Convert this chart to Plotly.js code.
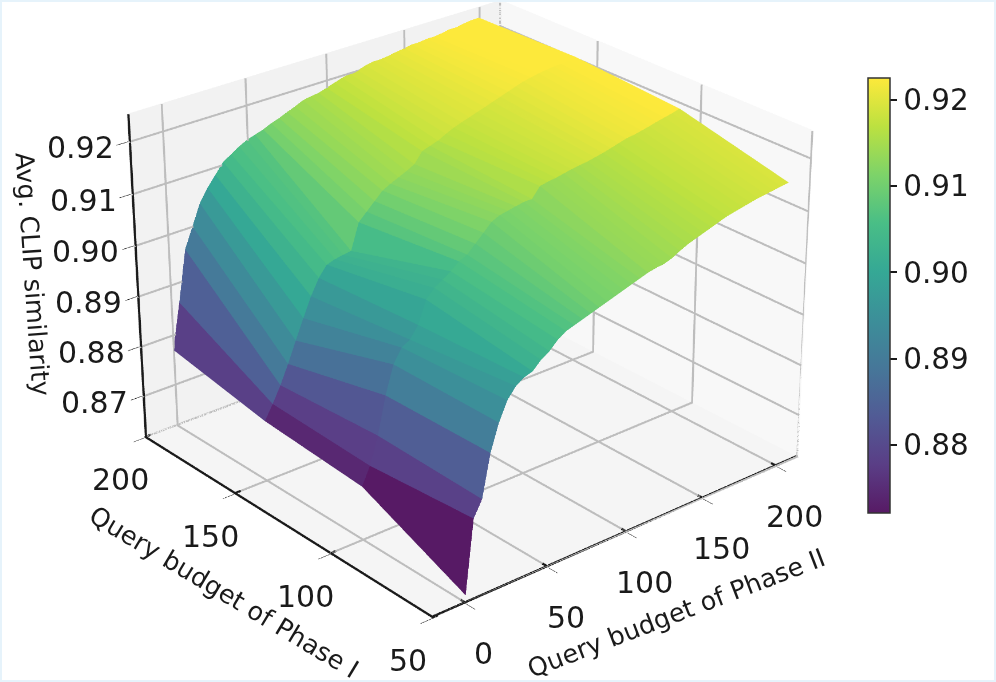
<!DOCTYPE html>
<html>
<head>
<meta charset="utf-8">
<script src="https://cdn.plot.ly/plotly-3.0.1.min.js"></script>
<style>
  html, body { margin: 0; padding: 0; background: #fff; overflow: hidden; }
  #frame { position: relative; width: 996px; height: 682px; overflow: hidden; }
  #frame::after { content: ""; position: absolute; inset: 0; border: 2px solid #e6f3fb; pointer-events: none; }
  /* four times the window: Plotly's field of view is fixed, so this is what flattens the perspective */
  #plot { position: absolute; left: -1494px; top: -1023px; width: 3984px; height: 2728px; }
</style>
</head>
<body>
<div id="frame"><div id="plot"></div></div>
<script>
// Query budgets on both axes
const phaseOne = [50, 100, 150, 200];
const phaseTwo = [0, 5, 10, 15, 20, 25, 30, 35, 40, 45, 50, 55, 60, 65, 70, 75, 80, 85, 90, 95, 100,
  105, 110, 115, 120, 125, 130, 135, 140, 145, 150, 155, 160, 165, 170, 175, 180, 185, 190, 195, 200];

// Avg. CLIP similarity, one list per Phase I budget
const simPhaseOne50 = [0.863, 0.877, 0.880, 0.888, 0.893, 0.8965, 0.8985, 0.8995, 0.900, 0.9015, 0.9025, 0.904, 0.905, 0.9055, 0.906, 0.9065, 0.907, 0.9075, 0.908, 0.9085,
  0.909, 0.9095, 0.910, 0.9103, 0.9105, 0.911, 0.9118, 0.9125, 0.913, 0.9135, 0.914, 0.9145, 0.915, 0.9153, 0.9156, 0.9159, 0.9162, 0.9164, 0.9166, 0.9168, 0.917];
const simPhaseOne100 = [0.872, 0.8754, 0.8806, 0.8877, 0.893, 0.8956, 0.8965, 0.8987, 0.9029, 0.9045, 0.9055, 0.9065, 0.9078, 0.9085, 0.91, 0.9115, 0.913, 0.9137, 0.914, 0.9143,
  0.9146, 0.9146, 0.9165, 0.9168, 0.917, 0.9173, 0.9176, 0.9178, 0.918, 0.9183, 0.9186, 0.919, 0.9194, 0.9198, 0.92, 0.9203, 0.9206, 0.921, 0.9213, 0.9216, 0.922];
const simPhaseOne150 = [0.8735, 0.8763, 0.8794, 0.883, 0.887, 0.8908, 0.8945, 0.8975, 0.8995, 0.9, 0.9003, 0.9005, 0.9055, 0.907, 0.9085, 0.910, 0.9108, 0.9115, 0.9122, 0.913,
  0.915, 0.9155, 0.916, 0.9168, 0.9175, 0.918, 0.9185, 0.919, 0.9195, 0.92, 0.9205, 0.921, 0.9215, 0.922, 0.9223, 0.9226, 0.9228, 0.923, 0.923, 0.9232, 0.9234];
const simPhaseOne200 = [0.877, 0.886, 0.896, 0.900, 0.904, 0.9065, 0.9085, 0.9105, 0.9115, 0.9125, 0.9133, 0.9138, 0.9143, 0.915, 0.9155, 0.9162, 0.9168, 0.9175, 0.9178, 0.918,
  0.9185, 0.919, 0.9195, 0.9198, 0.92, 0.9205, 0.9208, 0.9208, 0.921, 0.9213, 0.9215, 0.9218, 0.9218, 0.922, 0.922, 0.9222, 0.9225, 0.9225, 0.9228, 0.923, 0.923];

const simRows = [simPhaseOne50, simPhaseOne100, simPhaseOne150, simPhaseOne200];

const phaseOneTicks = [50, 100, 150, 200];
const phaseTwoTicks = [0, 50, 100, 150, 200];
const simTicks = [0.87, 0.88, 0.89, 0.90, 0.91, 0.92];
const barTicks = [0.88, 0.89, 0.90, 0.91, 0.92];

// viridis on white at alpha 0.9
const viridisStops = [[68, 1, 84], [72, 40, 120], [62, 73, 137], [49, 104, 142], [38, 130, 142],
  [31, 158, 137], [53, 183, 121], [110, 206, 88], [181, 222, 43], [253, 231, 37]];
const colorscale = viridisStops.map((c, i) => [
  i / (viridisStops.length - 1),
  "rgb(" + c.map((v) => Math.round(v * 0.9 + 25.5)).join(",") + ")",
]);

// Mesh with one flat colour per facet, like plot_surface
const xs = [], ys = [], zs = [], ii = [], jj = [], kk = [], facetColor = [];
simRows.forEach((row, r) => row.forEach((v, c) => {
  xs.push(phaseTwo[c]);
  ys.push(phaseOne[r]);
  zs.push(v);
}));
const cols = phaseTwo.length;
for (let r = 0; r < simRows.length - 1; r++) {
  for (let c = 0; c < cols - 1; c++) {
    const a = r * cols + c, b = a + 1, d = a + cols, e = d + 1;
    const avg = (zs[a] + zs[b] + zs[d] + zs[e]) / 4;
    ii.push(a, a); jj.push(b, e); kk.push(e, d);
    facetColor.push(avg, avg);
  }
}

const ink = "#1a1a1a";
const gridColor = "#bdbdbd";
const font = { family: "DejaVu Sans", color: ink };

const W = 3984, H = 2728, offX = 1494, offY = 1023;

const trace = {
  type: "mesh3d",
  x: xs, y: ys, z: zs,
  i: ii, j: jj, k: kk,
  intensity: facetColor,
  intensitymode: "cell",
  colorscale: colorscale,
  cmin: 0.8721,
  cmax: 0.9225,
  flatshading: true,
  lighting: { ambient: 1, diffuse: 0, specular: 0, roughness: 1, fresnel: 0 },
  hoverinfo: "skip",
  colorbar: {
    thickness: 22,
    lenmode: "pixels",
    len: 435,
    x: (868 + offX) / W,
    xpad: 0,
    ypad: 0,
    xanchor: "left",
    y: 1 - (295.5 + offY) / H,
    yanchor: "middle",
    tickvals: barTicks,
    ticktext: barTicks.map((t) => t.toFixed(2)),
    ticks: "outside",
    ticklen: 7,
    tickwidth: 1.5,
    tickcolor: ink,
    outlinecolor: "#333",
    outlinewidth: 1.5,
    tickfont: { ...font, size: 29.5 },
  },
};

function axis(ticks, range, pane) {
  return {
    title: { text: "" },
    range: range,
    tickvals: ticks,
    showticklabels: false,
    ticks: "outside",
    ticklen: 10,
    tickcolor: ink,
    showline: false,
    showgrid: false,
    showbackground: true,
    backgroundcolor: pane,
    zeroline: false,
    showspikes: false,
  };
}

const xRange = [-20, 215];
const yRange = [50, 200];
const zRange = [0.8614, 0.9252];

// thicker grid and axis lines than the scene's own
function lines(segments, color, width) {
  const x = [], y = [], z = [];
  segments.forEach((s) => {
    x.push(s[0][0], s[1][0], null);
    y.push(s[0][1], s[1][1], null);
    z.push(s[0][2], s[1][2], null);
  });
  return { type: "scatter3d", mode: "lines", x, y, z, line: { color, width }, hoverinfo: "skip", showlegend: false };
}

const [x0, x1] = xRange, [y0, y1] = yRange, [z0, z1] = zRange;
// nudged off the panes so they do not z-fight
const ex = 0.6, ey = 0.4, ez = 0.00015;
const gridSegments = [
  ...phaseTwoTicks.map((t) => [[t, y0, z0 + ez], [t, y1, z0 + ez]]),
  ...phaseTwoTicks.map((t) => [[t, y1 - ey, z0], [t, y1 - ey, z1]]),
  ...phaseOneTicks.map((t) => [[x0, t, z0 + ez], [x1, t, z0 + ez]]),
  ...phaseOneTicks.map((t) => [[x1 - ex, t, z0], [x1 - ex, t, z1]]),
  ...simTicks.map((t) => [[x0, y1 - ey, t], [x1, y1 - ey, t]]),
  ...simTicks.map((t) => [[x1 - ex, y0, t], [x1 - ex, y1, t]]),
];
const axisSegments = [
  [[x0, y0 + ey, z0 + ez], [x1, y0 + ey, z0 + ez]],
  [[x0 + ex, y0, z0 + ez], [x0 + ex, y1, z0 + ez]],
  [[x0 + ex, y1 - ey, z0], [x0 + ex, y1 - ey, z1]],
  // inner half of the tick marks
  ...phaseTwoTicks.map((t) => [[t, y0, z0 + ez], [t, y0 + 2.5, z0 + ez]]),
  ...phaseOneTicks.map((t) => [[x0, t, z0 + ez], [x0 + 4, t, z0 + ez]]),
];

function label(x, y, z, text, dx, dy, size, angle) {
  return {
    x, y, z, text,
    showarrow: false,
    xshift: dx,
    yshift: -dy,
    textangle: angle || 0,
    font: { ...font, size: size },
    xanchor: "center",
    yanchor: "middle",
  };
}

const annotations = [
  ...phaseTwoTicks.map((t) => label(t, y0, z0, String(t), 18, 50, 30)),
  ...phaseOneTicks.map((t) => label(x0, t, z0, String(t), -24, 42, 30)),
  ...simTicks.map((t) => label(x0, y1, t, t.toFixed(2), -48, 6, 30)),
  label(100, y0, z0, "Query budget of Phase II", 49, 80, 25.5, -21),
  label(x0, 125, z0, "Query budget of Phase I", -57, 68, 25.5, 31),
  label(x0, y1, 0.8925, "Avg. CLIP similarity", -103, -10, 25.5, 86),
];

const shift = { x: 0.065, y: -0.055, z: -0.17 };

const layout = {
  width: W,
  height: H,
  margin: { l: 0, r: 0, t: 0, b: 0 },
  paper_bgcolor: "#fff",
  showlegend: false,
  scene: {
    domain: { x: [0, 1], y: [0, 1] },
    xaxis: axis(phaseTwoTicks, xRange, "#f8f8f8"),
    yaxis: axis(phaseOneTicks, yRange, "#f2f2f2"),
    zaxis: axis(simTicks, zRange, "#f5f5f5"),
    aspectmode: "manual",
    aspectratio: { x: 1.405, y: 1.356, z: 1.05 },
    camera: {
      eye: { x: -5.6 + shift.x, y: -6.56 + shift.y, z: 4.34 + shift.z },
      center: shift,
      up: { x: 0, y: 0, z: 1 },
    },
    annotations: annotations,
  },
};

Plotly.newPlot("plot", [lines(gridSegments, gridColor, 3.5), lines(axisSegments, ink, 4), trace], layout, { displayModeBar: false });
</script>
</body>
</html>
